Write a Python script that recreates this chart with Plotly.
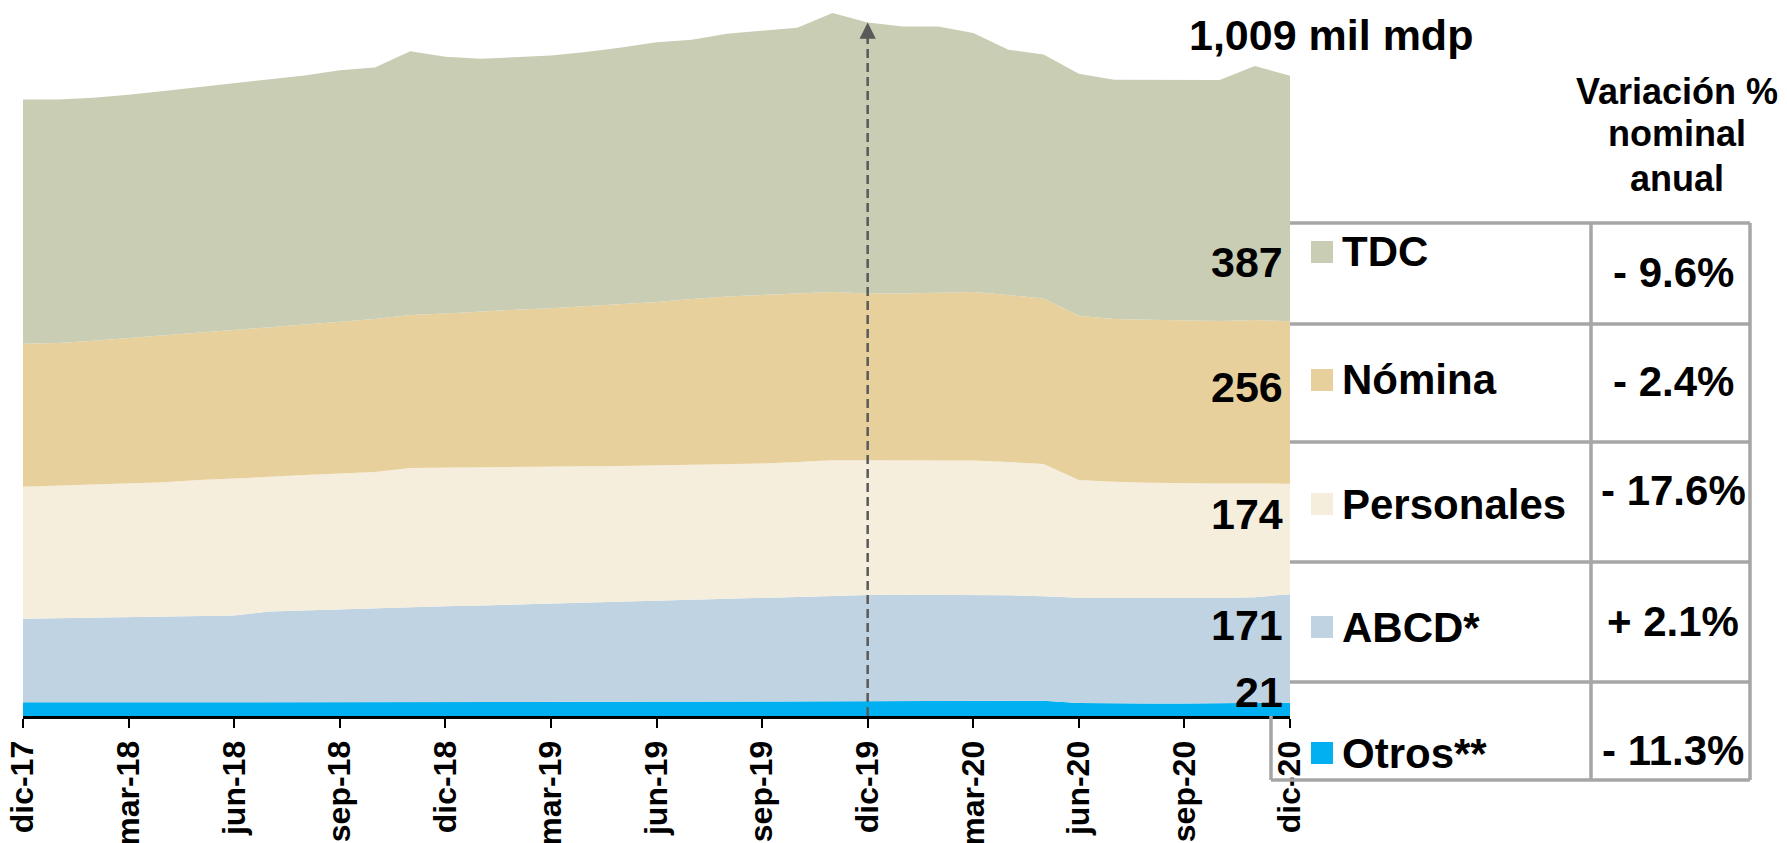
import plotly.graph_objects as go

# monthly balances, mil millones de pesos
months = ["dic-17", "ene-18", "feb-18", "mar-18", "abr-18", "may-18", "jun-18", "jul-18",
          "ago-18", "sep-18", "oct-18", "nov-18", "dic-18", "ene-19", "feb-19", "mar-19",
          "abr-19", "may-19", "jun-19", "jul-19", "ago-19", "sep-19", "oct-19", "nov-19",
          "dic-19", "ene-20", "feb-20", "mar-20", "abr-20", "may-20", "jun-20", "jul-20",
          "ago-20", "sep-20", "oct-20", "nov-20", "dic-20"]
tick_months = months[::3]

otros = [21.5, 21.5, 21.8, 21.5, 21.3, 21.3, 21.4, 21.5, 21.6, 21.7, 21.8, 22.0, 22.0,
         22.0, 22.1, 22.2, 22.3, 22.5, 22.7, 23.0, 23.1, 23.1, 23.2, 23.3, 23.7, 23.7,
         23.8, 24.3, 24.7, 24.0, 20.5, 19.8, 19.8, 19.8, 19.9, 20.3, 21.0]
abcd = [131.8, 132.6, 133.2, 134.4, 135.6, 136.3, 137.1, 143.2, 144.9, 146.4, 147.9, 149.2,
        150.9, 152.0, 153.5, 155.0, 156.4, 157.8, 159.1, 160.4, 161.9, 163.4, 164.9, 166.3,
        167.0, 167.5, 167.4, 166.9, 165.7, 164.9, 166.0, 166.2, 166.2, 166.2, 166.1, 167.0,
        171.0]
personales = [208.0, 209.0, 210.0, 210.7, 211.6, 214.2, 215.6, 212.2, 213.1, 214.1, 215.0,
              219.8, 218.4, 217.8, 216.6, 215.7, 214.8, 213.8, 213.1, 212.3, 211.8, 211.5,
              212.2, 213.4, 212.3, 211.8, 211.8, 211.5, 209.9, 208.3, 185.3, 183.1, 181.6,
              180.8, 180.5, 179.2, 174.0]
nomina = [225.3, 224.5, 226.2, 228.8, 230.8, 231.4, 233.4, 234.9, 236.9, 239.0, 240.9, 240.8,
          243.0, 246.0, 248.0, 249.6, 252.0, 254.4, 257.5, 261.4, 264.2, 265.3, 265.4, 265.3,
          262.7, 262.7, 263.9, 265.6, 263.0, 260.7, 259.1, 256.5, 256.7, 256.7, 256.0, 257.5,
          256.0]
tdc = [385.0, 384.0, 383.0, 383.6, 385.7, 387.8, 389.5, 391.2, 393.0, 396.3, 396.4, 415.8,
       404.4, 397.8, 397.8, 398.5, 401.0, 404.8, 409.3, 408.6, 414.1, 416.5, 418.8, 439.6,
       427.2, 420.9, 419.7, 407.9, 386.8, 384.4, 381.3, 377.2, 378.0, 378.8, 379.8, 400.2,
       387.0]

# legend order (top to bottom) and annual nominal change
names = ["TDC", "Nómina", "Personales", "ABCD*", "Otros**"]
series = [tdc, nomina, personales, abcd, otros]
colors = ["#C9CDB3", "#E8D09C", "#F5EEDC", "#C0D3E3", "#00B0F0"]
variations = ["- 9.6%", "- 2.4%", "- 17.6%", "+ 2.1%", "- 11.3%"]
header = ["Variación %", "nominal", "anual"]
marked_month = "dic-19"

FONT = "Liberation Sans, Arial, sans-serif"
W, H = 1787, 843
L, R, T, B = 23, 1290, 4, 716  # plot area in pixels


def px(x):
    return (x - L) / (R - L)


def py(y):
    return (B - y) / (B - T)


fig = go.Figure()

# stacked areas, bottom layer first
for name, vals, col in reversed(list(zip(names, series, colors))):
    fig.add_trace(go.Scatter(
        x=months, y=vals, name=name, stackgroup="one", mode="lines",
        line=dict(width=0, color=col), fillcolor=col, showlegend=False,
        hoverinfo="x+y+name",
    ))

totals = [sum(v) for v in zip(*series)]
i_mark = months.index(marked_month)
arrow_top = totals[i_mark]

# dashed guide up to the total at dic-19
fig.add_trace(go.Scatter(
    x=[marked_month, marked_month], y=[0, arrow_top - 22],
    mode="lines", line=dict(color="#595959", width=2.5, dash="9px,5px"),
    showlegend=False, hoverinfo="skip",
))
fig.add_annotation(
    x=marked_month, y=arrow_top, ax=0, ay=18, showarrow=True, arrowhead=2,
    arrowsize=1.3, arrowwidth=2.5, arrowcolor="#595959", text="",
)

# total label
fig.add_annotation(
    x=px(1331), y=py(35), xref="paper", yref="paper", showarrow=False,
    text=f"{round(totals[-1]):,} mil mdp", font=dict(family=FONT, size=43, color="black", weight="bold"),
    xanchor="center", yanchor="middle",
)

# last values next to the areas
value_y = [262, 387, 514, 625, 692]
for vals, yy in zip(series, value_y):
    fig.add_annotation(
        x=px(1285), y=py(yy), xref="paper", yref="paper", showarrow=False,
        text=f"{round(vals[-1])}", font=dict(family=FONT, size=43, color="black", weight="bold"),
        xanchor="right", yanchor="middle",
    )

# table header
for txt, yy in zip(header, [91, 133, 178]):
    fig.add_annotation(
        x=px(1677), y=py(yy), xref="paper", yref="paper", showarrow=False,
        text=txt, font=dict(family=FONT, size=36, color="black", weight="bold"),
        xanchor="center", yanchor="middle",
    )

# table grid
grid = dict(color="#A6A6A6", width=3.5)
row_lines = [223, 324, 442, 562, 682]
x_mid, x_right, x_left_low, y_bottom = 1591, 1750, 1271, 780
for yy in row_lines:
    fig.add_shape(type="line", xref="paper", yref="paper",
                  x0=px(R), x1=px(x_right), y0=py(yy), y1=py(yy), line=grid)
fig.add_shape(type="line", xref="paper", yref="paper",
              x0=px(x_left_low), x1=px(x_right), y0=py(y_bottom), y1=py(y_bottom), line=grid)
for xx in [x_mid, x_right]:
    fig.add_shape(type="line", xref="paper", yref="paper",
                  x0=px(xx), x1=px(xx), y0=py(row_lines[0]), y1=py(y_bottom), line=grid)
fig.add_shape(type="line", xref="paper", yref="paper",
              x0=px(x_left_low), x1=px(x_left_low), y0=py(B), y1=py(y_bottom), line=grid)

# legend rows and variations
legend_y = [252, 380, 504, 627, 753]
var_y = [273, 381, 490, 621, 750]
for name, col, var, ly, vy in zip(names, colors, variations, legend_y, var_y):
    fig.add_shape(type="rect", xref="paper", yref="paper",
                  x0=px(1311), x1=px(1333), y0=py(ly - 11), y1=py(ly + 11),
                  line=dict(width=0), fillcolor=col)
    fig.add_annotation(
        x=px(1340), y=py(ly), xref="paper", yref="paper", showarrow=False,
        text=name, font=dict(family=FONT, size=42, color="black", weight="bold"),
        xanchor="left", yanchor="middle",
    )
    fig.add_annotation(
        x=px(1673), y=py(vy), xref="paper", yref="paper", showarrow=False,
        text=var, font=dict(family=FONT, size=42, color="black", weight="bold"),
        xanchor="center", yanchor="middle",
    )

fig.update_layout(
    width=W, height=H,
    margin=dict(l=L, r=W - R, t=T, b=H - B),
    paper_bgcolor="white", plot_bgcolor="white",
    showlegend=False,
    xaxis=dict(
        type="category", range=[0, len(months) - 1], automargin=False,
        tickmode="array", tickvals=tick_months, ticktext=tick_months,
        tickangle=-90, ticks="outside", ticklen=9, tickwidth=2, tickcolor="black",
        showline=True, linecolor="black", linewidth=3,
        showgrid=False, zeroline=False,
        tickfont=dict(family=FONT, size=32, color="black", weight="bold"),
    ),
    yaxis=dict(range=[0, 1122], visible=False, showgrid=False, zeroline=False,
               automargin=False),
)

# the page body has a default 8px margin; remove it so the figure fills the window
fig.write_html("out.html", config={"displayModeBar": False},
               post_script="document.body.style.margin='0';")
